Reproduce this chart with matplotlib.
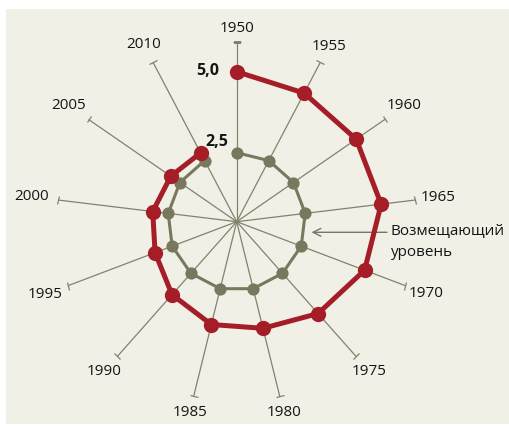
import numpy as np
import matplotlib
matplotlib.use("Agg")
import matplotlib.pyplot as plt
from matplotlib.markers import MarkerStyle
from matplotlib.transforms import Affine2D
from matplotlib.patches import Rectangle

plt.rcParams['font.family'] = ['Open Sans', 'DejaVu Sans']

years = ['1950', '1955', '1960', '1965', '1970', '1975', '1980',
         '1985', '1990', '1995', '2000', '2005', '2010']
fertility = [5.0, 4.84, 4.84, 4.85, 4.56, 4.09, 3.66, 3.53, 3.25, 2.91, 2.82, 2.67, 2.59]
replacement = [2.3] * 13

PX = 30.0  # pixels per unit radius
spoke_max = 180 / PX
label_px = [193, 198, 204, 203, 203, 200, 197, 197, 200, 205, 207, 204, 200]

RED = '#a51d26'
GRAY = '#78785f'
SPOKE = '#82826c'
BG = '#f0f0e7'
TXT = '#151515'

W, H = 509, 426
fig = plt.figure(figsize=(W / 100, H / 100), dpi=100, facecolor='white')
fig.patches.append(Rectangle((6 / W, 2 / H), 503 / W, 415 / H, transform=fig.transFigure,
                             facecolor=BG, edgecolor='none', zorder=-10))

cx, cy = 236.7, H - 221.7
half = 200.0
ax = fig.add_axes([(cx - half) / W, (cy - half) / H, 2 * half / W, 2 * half / H],
                  projection='polar')
ax.set_theta_zero_location('N')
ax.set_theta_direction(-1)
ax.set_ylim(0, half / PX)
ax.patch.set_visible(False)
ax.grid(False)
ax.spines['polar'].set_visible(False)
ax.set_xticks([])
ax.set_yticks([])

n = len(years)
theta = np.arange(n) * 2 * np.pi / n

for i, t in enumerate(theta):
    ax.plot([t, t], [0, spoke_max], color=SPOKE, lw=0.9, zorder=1, solid_capstyle='butt')
    m = MarkerStyle('_', transform=Affine2D().rotate_deg(-np.degrees(t)))
    ln, = ax.plot([t], [spoke_max], marker=m, markersize=6, markeredgewidth=0.9,
                  color=SPOKE, zorder=1)
    ln.set_snap(False)
    ax.text(t, label_px[i] / PX, years[i], ha='center', va='center', fontsize=11,
            color=TXT)

ax.plot(theta, replacement, color=GRAY, lw=2.2, zorder=3)
ax.plot(theta, replacement, 'o', color=GRAY, markersize=8.8, markeredgewidth=0, zorder=4)
ax.plot(theta, fertility, color=RED, lw=3.6, zorder=5)
ax.plot(theta, fertility, 'o', color=RED, markersize=11, markeredgewidth=0, zorder=6)

# value labels
fig.text(219.5 / W, 1 - 71 / H, '5,0', ha='right', va='center', fontsize=11.5,
         fontweight='bold', color=TXT)
fig.text(228.5 / W, 1 - 141.5 / H, '2,5', ha='right', va='center', fontsize=11.5,
         fontweight='bold', color=TXT)

# annotation
ax.annotate('', xy=(311.5 / W, 1 - 232.3 / H), xycoords='figure fraction',
            xytext=(387 / W, 1 - 232.3 / H), textcoords='figure fraction',
            arrowprops=dict(arrowstyle='->', color=GRAY, lw=1.0,
                            mutation_scale=14, shrinkA=0, shrinkB=0))
fig.text(391 / W, 1 - 232 / H, 'Возмещающий', ha='left', va='center', fontsize=11,
         color=TXT)
fig.text(391 / W, 1 - 253 / H, 'уровень', ha='left', va='center', fontsize=11,
         color=TXT)

fig.savefig('out.png', dpi=100, facecolor='white')
